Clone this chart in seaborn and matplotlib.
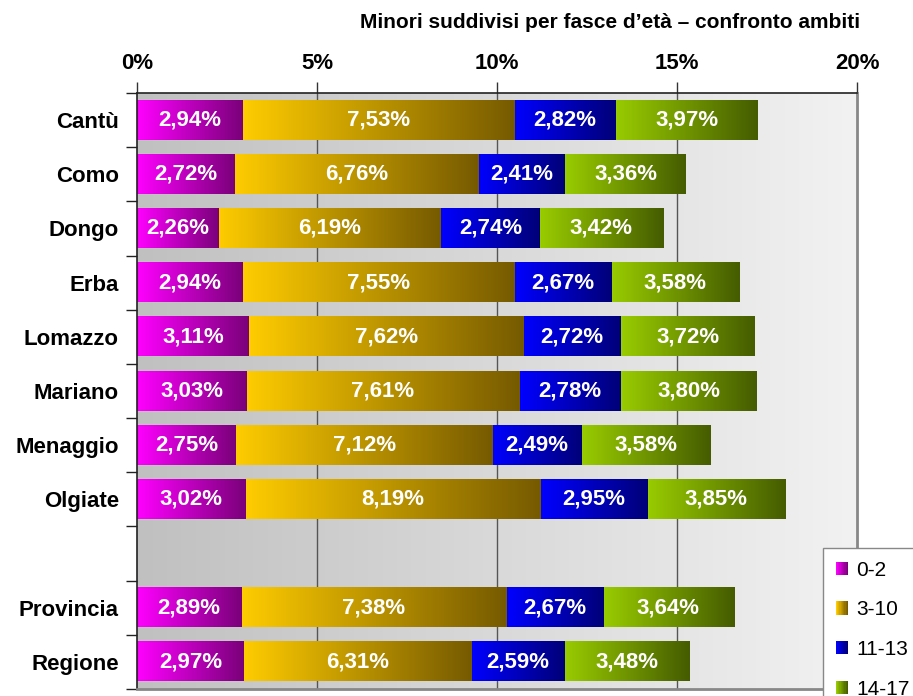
import numpy as np
import pandas as pd
import seaborn as sns
import matplotlib
matplotlib.use("Agg")
import matplotlib.pyplot as plt
from matplotlib.colors import to_rgb
from matplotlib.patches import Rectangle, Patch
from matplotlib.legend_handler import HandlerBase

ambiti = ["Cantù", "Como", "Dongo", "Erba", "Lomazzo", "Mariano", "Menaggio",
          "Olgiate", "Provincia", "Regione"]
fasce = ["0-2", "3-10", "11-13", "14-17"]
v0_2 = [2.94, 2.72, 2.26, 2.94, 3.11, 3.03, 2.75, 3.02, 2.89, 2.97]
v3_10 = [7.53, 6.76, 6.19, 7.55, 7.62, 7.61, 7.12, 8.19, 7.38, 6.31]
v11_13 = [2.82, 2.41, 2.74, 2.67, 2.72, 2.78, 2.49, 2.95, 2.67, 2.59]
v14_17 = [3.97, 3.36, 3.42, 3.58, 3.72, 3.80, 3.58, 3.85, 3.64, 3.48]
x_ticks = [0, 5, 10, 15, 20]
x_labels = ["0%", "5%", "10%", "15%", "20%"]

# row order on the chart, with an empty slot before Provincia
order = ambiti[:8] + [" "] + ambiti[8:]

# gradient colours (left -> right) for each age band
grad = {
    "0-2": ("#ff00ff", "#7a007a"),
    "3-10": ("#ffcc00", "#765a00"),
    "11-13": ("#0000ff", "#000078"),
    "14-17": ("#99cc00", "#455c00"),
}

df = pd.DataFrame({"ambito": ambiti, "0-2": v0_2, "3-10": v3_10,
                   "11-13": v11_13, "14-17": v14_17})
cum = df[fasce].cumsum(axis=1)
cum["ambito"] = df["ambito"]
start = cum[fasce].shift(1, axis=1).fillna(0)
start["ambito"] = df["ambito"]


def ramp(c0, c1, n=256):
    a, b = np.array(to_rgb(c0)), np.array(to_rgb(c1))
    t = np.linspace(0, 1, n)[:, None]
    return (a * (1 - t) + b * t)[None, :, :]


sns.set_style("white")
plt.rcParams["font.family"] = ["Liberation Sans", "DejaVu Sans"]
plt.rcParams["text.color"] = "black"
plt.rcParams["xtick.color"] = "black"
plt.rcParams["ytick.color"] = "black"

fig = plt.figure(figsize=(9.13, 6.96), dpi=100)
ax = fig.add_axes([137 / 913, 1 - 689 / 696, 720 / 913, (689 - 93) / 696])

# plot area background: gray gradient
bg = ramp("#c0c0c0", "#f2f2f2")
ax.imshow(bg, extent=[0, 1, 0, 1], transform=ax.transAxes, aspect="auto",
          zorder=0, interpolation="bilinear")
for xv in x_ticks[1:-1]:
    ax.axvline(xv, color="#555555", lw=1, zorder=0.5)

# stacked bars: cumulative totals, longest first
for fascia in reversed(fasce):
    n0 = len(ax.patches)
    sns.barplot(data=cum, x=fascia, y="ambito", order=order, orient="h",
                color=grad[fascia][0], width=0.72, errorbar=None, ax=ax)
    for p in ax.patches[n0:]:
        yc = p.get_y() + p.get_height() / 2
        name = order[int(round(yc))]
        left = start.loc[start["ambito"] == name, fascia].iloc[0]
        right = p.get_width()
        y0, y1 = p.get_y(), p.get_y() + p.get_height()
        p.set_facecolor("none")
        p.set_edgecolor("none")
        ax.imshow(ramp(*grad[fascia]), extent=[left, right, y1, y0],
                  aspect="auto", zorder=2, interpolation="bilinear")
        val = right - left
        ax.text((left + right) / 2, yc, f"{val:.2f}%".replace(".", ","),
                ha="center", va="center", color="white", fontsize=16,
                fontweight="bold", zorder=3)

ax.set_xlim(0, 20)
ax.set_ylim(len(order) - 0.5, -0.5)
ax.set_xlabel("")
ax.set_ylabel("")

ax.xaxis.tick_top()
ax.set_xticks(x_ticks)
ax.set_xticklabels(x_labels, fontsize=16, fontweight="bold")
ax.tick_params(axis="x", top=True, bottom=False, length=8, width=1,
               color="#333333", pad=6)

ax.set_yticks(range(len(order)))
ax.set_yticklabels(order, fontsize=16, fontweight="bold")
ax.set_yticks(np.arange(-0.5, len(order)), minor=True)
ax.tick_params(axis="y", which="major", length=0, pad=13)
ax.tick_params(axis="y", which="minor", left=True, length=8, width=1,
               color="#222222")

for s in ["top", "left"]:
    ax.spines[s].set_color("#222222")
    ax.spines[s].set_linewidth(1.2)
for s in ["right", "bottom"]:
    ax.spines[s].set_color("#888888")
    ax.spines[s].set_linewidth(2)

fig.text(610 / 913, 1 - 22 / 696,
         "Minori suddivisi per fasce d’età – confronto ambiti",
         ha="center", va="center", fontsize=15, fontweight="bold")


class GradientHandler(HandlerBase):
    def create_artists(self, legend, orig_handle, xdescent, ydescent,
                       width, height, fontsize, trans):
        c0, c1 = grad[orig_handle.get_label()]
        cols = ramp(c0, c1, 10)[0]
        w = width / len(cols)
        return [Rectangle((-xdescent + i * w, -ydescent), w, height,
                          facecolor=c, edgecolor="none", transform=trans)
                for i, c in enumerate(cols)]


handles = [Patch(label=f) for f in fasce]
leg = fig.legend(handles=handles, labels=fasce, loc="upper left",
                 bbox_to_anchor=(823 / 913, 1 - 548 / 696),
                 handler_map={h: GradientHandler() for h in handles},
                 frameon=True, fancybox=False, edgecolor="#888888",
                 framealpha=1, fontsize=15, handlelength=0.6,
                 handleheight=0.6, handletextpad=0.4, labelspacing=1.0,
                 borderpad=0.6, borderaxespad=0)

fig.savefig("out.png", dpi=100)
